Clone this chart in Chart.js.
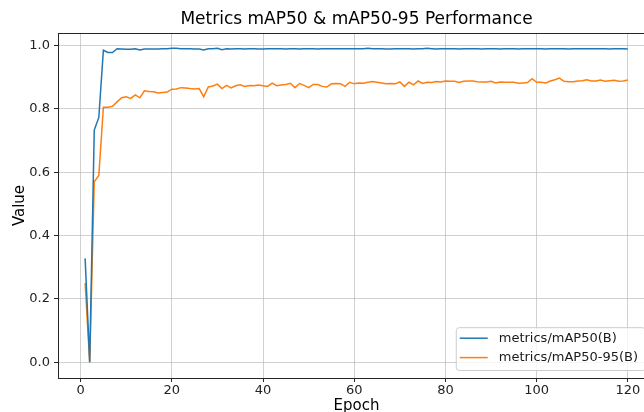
<!DOCTYPE html>
<html>
<head>
<meta charset="utf-8">
<script src="https://cdn.jsdelivr.net/npm/chart.js@4.4.1/dist/chart.umd.min.js"></script>
<style>
  html, body { margin: 0; padding: 0; background: #fff; }
  #wrap { width: 644px; height: 412px; overflow: hidden; position: relative; }
  #c { position: absolute; left: 0; top: 0; }
</style>
</head>
<body>
<div id="wrap"><canvas id="c" width="712" height="430"></canvas></div>
<script>
// ── DATA ──────────────────────────────────────────────────────
const epochs = [
  1, 2, 3, 4, 5, 6, 7, 8, 9, 10, 11, 12, 13, 14, 15, 16, 17, 18, 19, 20,
  21, 22, 23, 24, 25, 26, 27, 28, 29, 30, 31, 32, 33, 34, 35, 36, 37, 38, 39, 40,
  41, 42, 43, 44, 45, 46, 47, 48, 49, 50, 51, 52, 53, 54, 55, 56, 57, 58, 59, 60,
  61, 62, 63, 64, 65, 66, 67, 68, 69, 70, 71, 72, 73, 74, 75, 76, 77, 78, 79, 80,
  81, 82, 83, 84, 85, 86, 87, 88, 89, 90, 91, 92, 93, 94, 95, 96, 97, 98, 99, 100,
  101, 102, 103, 104, 105, 106, 107, 108, 109, 110, 111, 112, 113, 114, 115, 116, 117, 118, 119, 120
];

const mAP50 = [
  0.328, 0.0, 0.733, 0.773, 0.985, 0.978, 0.978, 0.990, 0.989, 0.988,
  0.988, 0.990, 0.986, 0.989, 0.989, 0.989, 0.989, 0.990, 0.990, 0.991,
  0.991, 0.990, 0.990, 0.990, 0.989, 0.989, 0.986, 0.990, 0.990, 0.991,
  0.987, 0.990, 0.989, 0.990, 0.990, 0.989, 0.990, 0.990, 0.989, 0.989,
  0.990, 0.990, 0.990, 0.990, 0.989, 0.990, 0.990, 0.989, 0.990, 0.990,
  0.990, 0.989, 0.990, 0.990, 0.990, 0.990, 0.990, 0.990, 0.990, 0.990,
  0.990, 0.990, 0.991, 0.990, 0.990, 0.990, 0.989, 0.989, 0.990, 0.990,
  0.990, 0.990, 0.989, 0.990, 0.990, 0.991, 0.990, 0.989, 0.990, 0.990,
  0.990, 0.990, 0.989, 0.990, 0.990, 0.990, 0.990, 0.989, 0.990, 0.990,
  0.990, 0.989, 0.990, 0.990, 0.990, 0.989, 0.990, 0.990, 0.990, 0.990,
  0.990, 0.989, 0.990, 0.990, 0.990, 0.990, 0.989, 0.990, 0.990, 0.990,
  0.990, 0.990, 0.990, 0.990, 0.990, 0.989, 0.990, 0.990, 0.990, 0.989
];

const mAP5095 = [
  0.250, 0.0, 0.570, 0.590, 0.805, 0.805, 0.808, 0.822, 0.835, 0.838,
  0.833, 0.844, 0.835, 0.857, 0.855, 0.854, 0.850, 0.852, 0.853, 0.862,
  0.863, 0.867, 0.866, 0.864, 0.863, 0.864, 0.838, 0.869, 0.872, 0.878,
  0.864, 0.874, 0.866, 0.873, 0.876, 0.871, 0.874, 0.873, 0.875, 0.873,
  0.871, 0.881, 0.873, 0.875, 0.877, 0.881, 0.867, 0.880, 0.874, 0.867,
  0.877, 0.877, 0.871, 0.869, 0.879, 0.880, 0.879, 0.871, 0.884, 0.879,
  0.882, 0.881, 0.884, 0.886, 0.884, 0.882, 0.879, 0.880, 0.879, 0.885,
  0.871, 0.884, 0.876, 0.888, 0.880, 0.884, 0.883, 0.886, 0.885, 0.888,
  0.887, 0.887, 0.883, 0.887, 0.888, 0.888, 0.886, 0.885, 0.885, 0.887,
  0.882, 0.885, 0.884, 0.884, 0.884, 0.881, 0.882, 0.883, 0.895, 0.884,
  0.884, 0.882, 0.888, 0.892, 0.897, 0.887, 0.886, 0.886, 0.888, 0.889,
  0.892, 0.888, 0.888, 0.891, 0.887, 0.889, 0.890, 0.887, 0.888, 0.891
];

const xTicks = [0, 20, 40, 60, 80, 100, 120];
const yTicks = [0.0, 0.2, 0.4, 0.6, 0.8, 1.0];

// ── STYLE ─────────────────────────────────────────────────────
const FONT   = '"DejaVu Sans", "Liberation Sans", sans-serif';
const GRID   = 'rgba(176,176,176,0.6)';
const SPINE  = '#262626';

const toPts = vals => epochs.map((e, i) => ({ x: e, y: vals[i] }));

// axes frame (all four spines, like matplotlib)
const framePlugin = {
  id: 'frame',
  afterDatasetsDraw(chart) {
    const { ctx, chartArea: a } = chart;
    ctx.save();
    ctx.strokeStyle = SPINE;
    ctx.lineWidth = 1;
    ctx.strokeRect(Math.round(a.left) + 0.5, Math.round(a.top) + 0.5,
      Math.round(a.right - a.left), Math.round(a.bottom - a.top));
    ctx.restore();
  },
};

// boxed legend in the lower right corner of the axes
const legendPlugin = {
  id: 'boxLegend',
  afterDraw(chart) {
    const { ctx, chartArea: a } = chart;
    const sets = chart.data.datasets;
    ctx.save();
    ctx.font = '13px ' + FONT;
    const textW = Math.max(...sets.map(d => ctx.measureText(d.label).width));
    const rowH = 19.4, handle = 28, padL = 4, gap = 11, padR = 7;
    const w = padL + handle + gap + textW + padR;
    const h = sets.length * rowH + 4;
    const x = a.right - 10 - w;
    const y = a.bottom - 8 - h;

    ctx.beginPath();
    ctx.roundRect(x + 0.5, y + 0.5, w, h, 3);
    ctx.fillStyle = 'rgba(255,255,255,0.8)';
    ctx.fill();
    ctx.strokeStyle = '#cccccc';
    ctx.lineWidth = 1;
    ctx.stroke();

    sets.forEach((d, i) => {
      const cy = y + 11 + i * rowH;
      ctx.beginPath();
      ctx.moveTo(x + padL, cy);
      ctx.lineTo(x + padL + handle, cy);
      ctx.strokeStyle = d.borderColor;
      ctx.lineWidth = 1.5;
      ctx.stroke();
      ctx.fillStyle = '#1a1a1a';
      ctx.textBaseline = 'middle';
      ctx.textAlign = 'left';
      ctx.fillText(d.label, x + padL + handle + gap, cy);
    });
    ctx.restore();
  },
};

// ── CHART ─────────────────────────────────────────────────────
const ctx = document.getElementById('c').getContext('2d');

new Chart(ctx, {
  type: 'line',
  data: {
    datasets: [
      { label: 'metrics/mAP50(B)',    data: toPts(mAP50),   borderColor: '#1f77b4', borderWidth: 1.5, pointRadius: 0, tension: 0, fill: false },
      { label: 'metrics/mAP50-95(B)', data: toPts(mAP5095), borderColor: '#ff7f0e', borderWidth: 1.5, pointRadius: 0, tension: 0, fill: false },
    ],
  },
  options: {
    responsive: false,
    animation: false,
    devicePixelRatio: 1,
    layout: { padding: { left: 0, right: 57, top: 0, bottom: 0 } },
    plugins: {
      legend: { display: false },
      tooltip: { enabled: false },
      title: {
        display: true,
        fullSize: false,   // centre over the plot area, not the whole canvas
        text: 'Metrics mAP50 & mAP50-95 Performance',
        color: '#000',
        font: { family: FONT, size: 17, weight: 'normal', lineHeight: 1.2 },
        padding: { top: 9.8, bottom: 2.8 },
      },
    },
    scales: {
      x: {
        type: 'linear',
        min: -4.95, max: 125.95,
        afterBuildTicks: s => { s.ticks = xTicks.map(v => ({ value: v })); },
        afterFit: s => { s.height = 52; },
        ticks: {
          color: '#222', font: { family: FONT, size: 13 }, padding: 1,
          maxRotation: 0, autoSkip: false,
          callback: v => String(v),
        },
        grid: { color: GRID, lineWidth: 1, tickLength: 4, tickColor: SPINE, tickWidth: 1 },
        border: { display: false },
        title: {
          display: true, text: 'Epoch', color: '#000',
          font: { family: FONT, size: 15, lineHeight: 1.2 },
          padding: { top: 0, bottom: 14.5 },
        },
      },
      y: {
        min: -0.0495, max: 1.0395,
        afterBuildTicks: s => { s.ticks = yTicks.map(v => ({ value: v })); },
        afterFit: s => { s.width = 58; },
        ticks: {
          color: '#222', font: { family: FONT, size: 13 }, padding: 4,
          autoSkip: false,
          callback: v => v.toFixed(1),
        },
        grid: { color: GRID, lineWidth: 1, tickLength: 4, tickColor: SPINE, tickWidth: 1 },
        border: { display: false },
        title: {
          display: true, text: 'Value', color: '#000',
          font: { family: FONT, size: 15, lineHeight: 1.2 },
          padding: { top: 11, bottom: 0 },
        },
      },
    },
  },
  plugins: [framePlugin, legendPlugin],
});
</script>
</body>
</html>
